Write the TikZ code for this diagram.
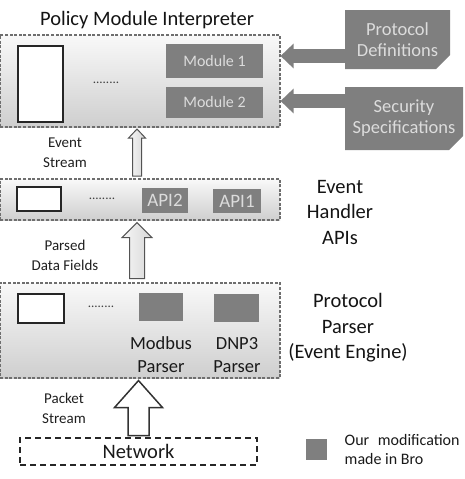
\documentclass[tikz,border=0pt]{standalone}
\usepackage{fontspec}
\setmainfont{Carlito}
\usetikzlibrary{positioning,arrows.meta,shapes.misc}
\definecolor{modgray}{HTML}{7F7F7F}
\definecolor{modtext}{HTML}{DCDCDC}
\definecolor{boxline}{HTML}{6E6E6E}

\begin{document}
\begin{tikzpicture}[
		x=1pt, y=-1pt,
		layerbox/.style={
			draw=boxline,
			dash pattern=on 3pt off 1.6pt,
			line width=1.1pt,
			top color=gray!5,
			bottom color=gray!38,
			minimum width=280pt,
			inner sep=0pt
		},
		blankbox/.style={draw=black!85, line width=1.6pt, fill=white, inner sep=0pt},
		modbox/.style={fill=modgray, text=modtext, inner sep=0pt},
		snipbox/.style={
			chamfered rectangle,
			chamfered rectangle corners=south east,
			chamfered rectangle xsep=7pt,
			chamfered rectangle ysep=7pt,
			fill=modgray, text=modtext, align=center, inner sep=0pt,
			font=\fontsize{18.5}{21}\selectfont
		},
		dotrow/.style={text=black!75, font=\fontsize{13}{13}\selectfont},
		sidelabel/.style={align=center, text=black!92, font=\fontsize{20.5}{25.5}\selectfont},
		flowlabel/.style={align=center, text=black!88, font=\fontsize{15}{20}\selectfont},
		sidearrow/.style={draw=modgray, line width=14pt, -{Triangle[width=24pt,length=13pt]}},
		hollowarrow/.style={draw=gray!65!black, line width=1pt, left color=gray!6, right color=gray!32, line join=miter}
	]
		\useasboundingbox (0,0) rectangle (465,479);

		% policy layer
		\node[sidelabel] (pmtitle) at (147,20) {Policy Module Interpreter};
		\node[layerbox, minimum height=92pt] (pm) at (140,81) {};
		\node[blankbox, minimum width=45pt, minimum height=76pt] (pmblank) at (40.5,84) {};
		\node[dotrow] (pmdots) at (106,83) {........};
		\node[modbox, minimum width=97pt, minimum height=34pt, font=\fontsize{16}{16}\selectfont] (mod1) at (214.5,61) {Module 1};
		\node[modbox, minimum width=97pt, minimum height=31pt, font=\fontsize{16}{16}\selectfont] (mod2) at (214.5,102.5) {Module 2};

		\node[snipbox, minimum width=105pt, minimum height=59pt] (protodef) at (397.5,39.5) {Protocol\\Definitions};
		\node[snipbox, minimum width=118pt, minimum height=63pt] (secspec) at (404,118.5) {Security\\Specifications};

		\draw[sidearrow] ([yshift=-16.5pt]protodef.west) coordinate (pdin) -- (pm.east |- pdin);
		\draw[sidearrow] ([yshift=17.5pt]secspec.west) coordinate (ssin) -- (pm.east |- ssin);

		% event handler layer
		\node[layerbox, minimum height=41pt] (eh) at (140,199.5) {};
		\node[blankbox, minimum width=44pt, minimum height=24pt] (ehblank) at (39,199) {};
		\node[dotrow] (ehdots) at (102,199) {........};
		\node[modbox, minimum width=46pt, minimum height=25pt, font=\fontsize{19}{19}\selectfont] (api2) at (165,200.5) {API2};
		\node[modbox, minimum width=48pt, minimum height=24pt, font=\fontsize{19}{19}\selectfont] (api1) at (237,201) {API1};
		\node[sidelabel] (ehlabel) at (340,212) {Event\\Handler\\APIs};

		\draw[hollowarrow] ([xshift=-3pt,yshift=-1.5pt]pm.south) -- ++(8.5,9) -- ++(-4,0) -- ++(0,38)
			-- ++(-9,0) -- ++(0,-38) -- ++(-4,0) -- cycle;
		\node[flowlabel] (evstream) at (65,153) {Event\\Stream};

		% protocol parser layer
		\node[layerbox, minimum height=95pt] (ee) at (140,330.5) {};
		\node[blankbox, minimum width=46pt, minimum height=29pt] (eeblank) at (41,308.5) {};
		\node[dotrow] (eedots) at (101,307) {........};
		\node[modbox, minimum width=44pt, minimum height=28pt] (modbus) at (161,307) {};
		\node[modbox, minimum width=45pt, minimum height=28pt] (dnp3) at (236.5,308) {};
		\node[align=center, text=black!90, font=\fontsize{18.5}{23}\selectfont] (modbuslbl) at (161,355) {Modbus\\Parser};
		\node[align=center, text=black!90, font=\fontsize{18.5}{23}\selectfont] (dnp3lbl) at (237,355) {DNP3\\Parser};
		\node[sidelabel] (eelabel) at (348,328) {Protocol\\Parser\\(Event Engine)};

		\draw[hollowarrow] ([xshift=-3pt,yshift=-2pt]eh.south) -- ++(15,15) -- ++(-7.5,0) -- ++(0,41)
			-- ++(-15,0) -- ++(0,-41) -- ++(-7.5,0) -- cycle;
		\node[flowlabel] (parsed) at (65,255) {Parsed\\Data Fields};

		% network
		\node[draw=black!85, dash pattern=on 6pt off 4pt, line width=1.4pt, minimum width=237pt,
			minimum height=27pt, inner sep=0pt, text=black!90, font=\fontsize{20.5}{20.5}\selectfont] (net) at (138.5,451.5) {Network};
		\draw[draw=black!80, line width=1.5pt, fill=white, line join=miter] ([xshift=-1.5pt,yshift=-2pt]ee.south)
			-- ++(24,27) -- ++(-13.5,0) -- ++(0,28) -- ++(-21,0) -- ++(0,-28) -- ++(-13.5,0) -- cycle;
		\node[flowlabel] (packet) at (64,408) {Packet\\Stream};

		% legend
		\node[modbox, minimum width=21pt, minimum height=21pt] (legsq) at (316.5,449.5) {};
		\node[right=14pt of legsq, align=left, text=black!90, font=\fontsize{16}{19}\selectfont] (legtext) {Our\hspace{5pt} modification\\made in Bro};
	\end{tikzpicture}
\end{document}
